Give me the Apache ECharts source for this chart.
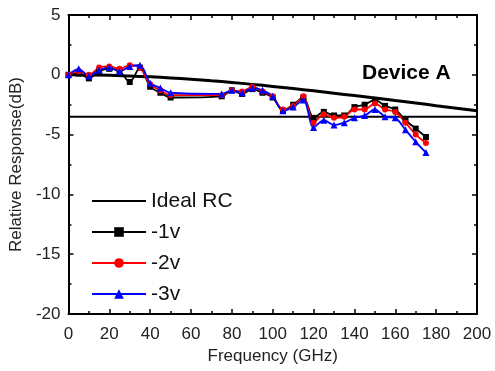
<!DOCTYPE html>
<html><head><meta charset="utf-8">
<script src="https://cdn.jsdelivr.net/npm/echarts@6/dist/echarts.min.js"></script>
<style>html,body{margin:0;padding:0;background:#fff}#c{width:495px;height:371px}</style>
</head><body><div id="c"></div>
<script>
const freq = [0,5,10,15,20,25,30,35,40,45,50,75,80,85,90,95,100,105,110,115,120,125,130,135,140,145,150,155,160,165,170,175];
const v1 = [0,0.1,-0.3,0.3,0.5,0.3,-0.6,0.6,-1.0,-1.5,-1.9,-1.8,-1.3,-1.6,-1.2,-1.5,-1.9,-3.0,-2.5,-1.9,-3.6,-3.1,-3.4,-3.4,-2.7,-2.5,-2.1,-2.6,-2.9,-3.8,-4.5,-5.2];
const v2 = [0,0.3,0,0.6,0.7,0.5,0.8,0.6,-0.8,-1.3,-1.7,-1.7,-1.3,-1.4,-1.0,-1.4,-1.8,-2.9,-2.6,-1.8,-4.0,-3.3,-3.6,-3.5,-2.9,-2.9,-2.4,-2.9,-3.1,-4.0,-5.0,-5.7];
const v3 = [0,0.5,-0.1,0.4,0.6,0.3,0.7,0.8,-0.7,-1.1,-1.5,-1.6,-1.3,-1.5,-1.1,-1.3,-1.8,-3.0,-2.7,-2.1,-4.4,-3.8,-4.2,-4.0,-3.6,-3.4,-2.9,-3.5,-3.6,-4.6,-5.6,-6.5];
const rcFreq = [0,10,20,30,40,50,60,70,80,90,100,110,120,130,140,150,160,170,180,190,200];
const rcVal = [0,-0.01,-0.04,-0.1,-0.17,-0.26,-0.37,-0.5,-0.64,-0.8,-0.97,-1.15,-1.34,-1.54,-1.74,-1.94,-2.15,-2.36,-2.58,-2.79,-3.0];
const refFreq = [0,200];
const refVal = [-3.5,-3.5];
const seriesNames = ['Ideal RC','-1v','-2v','-3v'];

const zip = (a,b)=>a.map((x,i)=>[x,b[i]]);
const FONT = 'Liberation Sans, Arial, sans-serif';
const axisBase = {
  axisLine:{show:true,onZero:false,lineStyle:{color:'#000',width:2}},
  axisTick:{show:true,inside:true,length:5,lineStyle:{color:'#000',width:1.5}},
  minorTick:{show:true,splitNumber:2,length:3,lineStyle:{color:'#000',width:1.5}},
  splitLine:{show:false}
};
const chart = echarts.init(document.getElementById('c'));
chart.setOption({
  animation:false,
  backgroundColor:'#fff',
  grid:{left:66,right:18,top:15,bottom:57},
  xAxis:[
    Object.assign({type:'value',min:0,max:200,interval:20,position:'bottom',
      name:'Frequency (GHz)',nameLocation:'middle',nameGap:34,
      nameTextStyle:{fontFamily:FONT,fontSize:17,color:'#222'},
      axisLabel:{fontFamily:FONT,fontSize:17,color:'#222',margin:12}},axisBase),
    Object.assign({type:'value',min:0,max:200,interval:20,position:'top',axisLabel:{show:false}},axisBase)
  ],
  yAxis:[
    Object.assign({type:'value',min:-20,max:5,interval:5,position:'left',
      name:'Relative Response(dB)',nameLocation:'middle',nameGap:37,nameRotate:90,
      nameTextStyle:{fontFamily:FONT,fontSize:17,color:'#222'},
      axisLabel:{fontFamily:FONT,fontSize:17,color:'#222',margin:8}},axisBase),
    Object.assign({type:'value',min:-20,max:5,interval:5,position:'right',axisLabel:{show:false}},axisBase)
  ],
  legend:{
    data:[{name:seriesNames[0],itemStyle:{opacity:0}},seriesNames[1],seriesNames[2],seriesNames[3]],
    orient:'vertical',left:86,top:185,itemWidth:54,itemHeight:12,itemGap:9,
    textStyle:{fontFamily:FONT,fontSize:21,lineHeight:22,color:'#111'}
  },
  graphic:[{type:'text',left:362,top:63,style:{text:'Device A',font:'bold 21px '+FONT,fill:'#000'}}],
  series:[
    {name:'Ideal RC',type:'line',data:zip(rcFreq,rcVal),showSymbol:false,symbol:'none',smooth:true,
      lineStyle:{color:'#000',width:3},itemStyle:{color:'#000'}},
    {name:'ref',type:'line',data:zip(refFreq,refVal),showSymbol:false,symbol:'none',
      lineStyle:{color:'#000',width:2},silent:true},
    {name:'-1v',type:'line',data:zip(freq,v1),symbol:'rect',symbolSize:6,smooth:0.3,
      lineStyle:{color:'#000',width:1.8},itemStyle:{color:'#000'}},
    {name:'-2v',type:'line',data:zip(freq,v2),symbol:'circle',symbolSize:6,smooth:0.3,
      lineStyle:{color:'#ff0000',width:1.8},itemStyle:{color:'#ff0000'}},
    {name:'-3v',type:'line',data:zip(freq,v3),symbol:'triangle',symbolSize:7,smooth:0.3,
      lineStyle:{color:'#0000ff',width:1.8},itemStyle:{color:'#0000ff'}}
  ]
});
</script></body></html>
